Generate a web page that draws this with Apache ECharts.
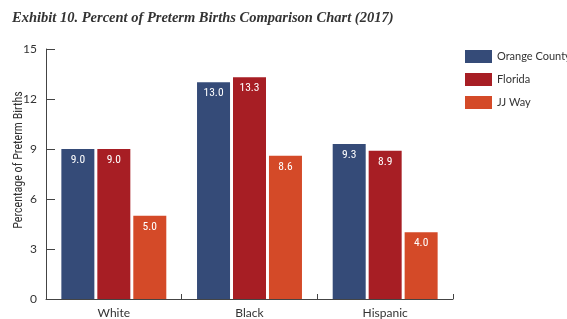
<!DOCTYPE html>
<html>
<head>
<meta charset="utf-8">
<script src="https://cdn.jsdelivr.net/npm/echarts@6/dist/echarts.min.js"></script>
<style>
  html, body { margin: 0; padding: 0; background: #fff; }
  #main { width: 567px; height: 319px; }
</style>
</head>
<body>
<div id="main"></div>
<script>
// data
const categories = ['White', 'Black', 'Hispanic'];
const orangeCounty = [9.0, 13.0, 9.3];
const florida = [9.0, 13.3, 8.9];
const jjWay = [5.0, 8.6, 4.0];
const yTicks = [0, 3, 6, 9, 12, 15];

const axisFont = 'Lato, "Noto Sans", sans-serif';
const narrowFont = '"Liberation Sans Narrow", "Roboto Condensed", Lato, sans-serif';

const chart = echarts.init(document.getElementById('main'));

function barSeries(name, data, color) {
  return {
    name,
    type: 'bar',
    data,
    barWidth: 33,
    barGap: '9%',
    itemStyle: { color },
    label: {
      show: true,
      position: 'insideTop',
      distance: 5,
      color: '#fff',
      fontFamily: narrowFont,
      fontSize: 11.5,
      formatter: p => p.value.toFixed(1)
    }
  };
}

chart.setOption({
  animation: false,
  title: {
    text: 'Exhibit 10. Percent of Preterm Births Comparison Chart (2017)',
    left: 7,
    top: 6,
    textStyle: {
      fontFamily: '"Liberation Serif", serif',
      fontStyle: 'italic',
      fontWeight: 'bold',
      fontSize: 14.5,
      color: '#333'
    }
  },
  legend: {
    orient: 'vertical',
    left: 465,
    top: 50,
    padding: 0,
    icon: 'rect',
    itemWidth: 27,
    itemHeight: 13,
    itemGap: 10,
    itemStyle: { borderWidth: 0 },
    textStyle: { fontFamily: axisFont, fontSize: 11, color: '#333' },
    data: ['Orange County', 'Florida', 'JJ Way']
  },
  grid: { left: 46, right: 114, top: 49, bottom: 20, outerBoundsMode: 'none' },
  xAxis: {
    type: 'category',
    data: categories,
    axisLine: { lineStyle: { color: '#444', width: 1 } },
    axisTick: { show: true, inside: true, length: 5, lineStyle: { color: '#444' } },
    axisLabel: { margin: 8, fontFamily: axisFont, fontSize: 12, color: '#333' }
  },
  yAxis: {
    type: 'value',
    min: yTicks[0],
    max: yTicks[yTicks.length - 1],
    interval: 3,
    name: 'Percentage of Preterm Births',
    nameLocation: 'middle',
    nameGap: 21,
    nameMoveOverlap: false,
    nameTextStyle: {
      fontFamily: narrowFont,
      fontSize: 12,
      color: '#333',
      padding: [0, 0, 0, 28]
    },
    axisLine: { show: true, lineStyle: { color: '#444', width: 1 } },
    axisTick: { show: true, inside: true, length: 9, lineStyle: { color: '#444' } },
    splitLine: { show: false },
    axisLabel: { margin: 9, fontFamily: axisFont, fontSize: 12, color: '#333' }
  },
  series: [
    barSeries('Orange County', orangeCounty, '#354b78'),
    barSeries('Florida', florida, '#a71e24'),
    barSeries('JJ Way', jjWay, '#d44a28')
  ]
});
</script>
</body>
</html>
